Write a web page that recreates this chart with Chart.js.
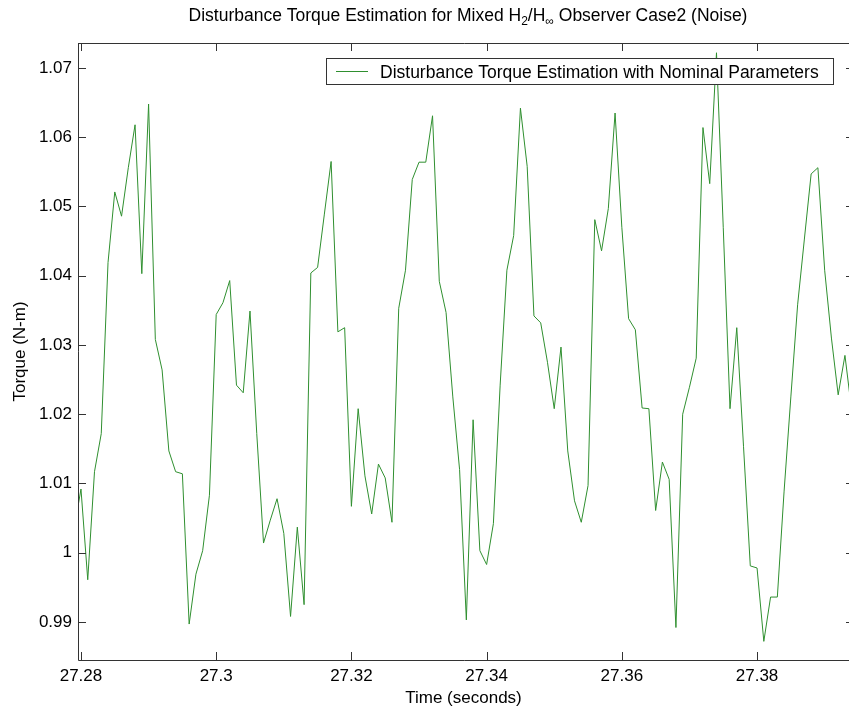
<!DOCTYPE html>
<html>
<head>
<meta charset="utf-8">
<script src="https://cdn.jsdelivr.net/npm/chart.js@4.4.1/dist/chart.umd.min.js"></script>
<style>
    html, body { margin: 0; padding: 0; background: #ffffff; overflow: hidden; }
    #torqueChart { display: block; }
</style>
</head>
<body>
<canvas id="torqueChart" width="849" height="712"></canvas>
<script>
    //Data (1 ms sampling)
    const times = [
        27.279, 27.280, 27.281, 27.282, 27.283, 27.284, 27.285, 27.286, 27.287, 27.288,
        27.289, 27.290, 27.291, 27.292, 27.293, 27.294, 27.295, 27.296, 27.297, 27.298,
        27.299, 27.300, 27.301, 27.302, 27.303, 27.304, 27.305, 27.306, 27.307, 27.308,
        27.309, 27.310, 27.311, 27.312, 27.313, 27.314, 27.315, 27.316, 27.317, 27.318,
        27.319, 27.320, 27.321, 27.322, 27.323, 27.324, 27.325, 27.326, 27.327, 27.328,
        27.329, 27.330, 27.331, 27.332, 27.333, 27.334, 27.335, 27.336, 27.337, 27.338,
        27.339, 27.340, 27.341, 27.342, 27.343, 27.344, 27.345, 27.346, 27.347, 27.348,
        27.349, 27.350, 27.351, 27.352, 27.353, 27.354, 27.355, 27.356, 27.357, 27.358,
        27.359, 27.360, 27.361, 27.362, 27.363, 27.364, 27.365, 27.366, 27.367, 27.368,
        27.369, 27.370, 27.371, 27.372, 27.373, 27.374, 27.375, 27.376, 27.377, 27.378,
        27.379, 27.380, 27.381, 27.382, 27.383, 27.384, 27.385, 27.386, 27.387, 27.388,
        27.389, 27.390, 27.391, 27.392, 27.393, 27.394
    ];
    const torque = [
        1.0035, 1.0092, 0.9961, 1.0117, 1.0172, 1.0419, 1.0521, 1.0486, 1.0556, 1.0618,
        1.0403, 1.0648, 1.0308, 1.0264, 1.0147, 1.0117, 1.0114, 0.9897, 0.9969, 1.0003,
        1.0083, 1.0344, 1.0361, 1.0393, 1.0242, 1.0231, 1.0349, 1.0172, 1.0014, 1.0047,
        1.0078, 1.0028, 0.9908, 1.0037, 0.9925, 1.0404, 1.0412, 1.0489, 1.0565, 1.0319,
        1.0325, 1.0067, 1.0208, 1.0111, 1.0056, 1.0128, 1.0108, 1.0044, 1.0353, 1.0408,
        1.0539, 1.0564, 1.0564, 1.0631, 1.0392, 1.0347, 1.0225, 1.0120, 0.9903, 1.0192,
        1.0003, 0.9983, 1.0042, 1.0242, 1.0408, 1.0458, 1.0642, 1.0558, 1.0342, 1.0332,
        1.0275, 1.0208, 1.0297, 1.0147, 1.0075, 1.0044, 1.0097, 1.0481, 1.0436, 1.0497,
        1.0635, 1.0470, 1.0338, 1.0322, 1.0209, 1.0208, 1.0061, 1.0131, 1.0106, 0.9892,
        1.0200, 1.0239, 1.0281, 1.0614, 1.0533, 1.0722, 1.0470, 1.0208, 1.0325, 1.0153,
        0.9981, 0.9978, 0.9872, 0.9936, 0.9936, 1.0089, 1.0225, 1.0358, 1.0453, 1.0547,
        1.0556, 1.0408, 1.0310, 1.0228, 1.0285, 1.0205
    ];

    const xTicks = [27.28, 27.30, 27.32, 27.34, 27.36, 27.38];
    const xTickLabels = ['27.28', '27.3', '27.32', '27.34', '27.36', '27.38'];
    const yTicks = [0.99, 1.00, 1.01, 1.02, 1.03, 1.04, 1.05, 1.06, 1.07];
    const yTickLabels = ['0.99', '1', '1.01', '1.02', '1.03', '1.04', '1.05', '1.06', '1.07'];
    const xRange = [27.27956, 27.3936];
    const yRange = [0.98451, 1.07361];

    const seriesLabel = 'Disturbance Torque Estimation with Nominal Parameters';
    const lineColor = '#2f8f2f';
    const fontFamily = "'Liberation Sans', Arial, sans-serif";

    //MATLAB-like frame: box on top, inward tick marks, opaque legend, title with sub-scripts
    const matlabFrame = {
        id: 'matlabFrame',
        afterDatasetsDraw(chart) {
            const ctx = chart.ctx;
            const area = chart.chartArea;
            const xScale = chart.scales.x;
            const yScale = chart.scales.y;
            const tickLen = 8;
            const rightBorder = area.right + 5;

            ctx.save();
            ctx.strokeStyle = '#333333';
            ctx.lineWidth = 1;
            ctx.beginPath();
            //box
            ctx.moveTo(area.left + 0.5, area.top + 0.5);
            ctx.lineTo(rightBorder, area.top + 0.5);
            ctx.moveTo(area.left + 0.5, area.top);
            ctx.lineTo(area.left + 0.5, area.bottom + 0.5);
            ctx.lineTo(rightBorder, area.bottom + 0.5);
            //x ticks, top and bottom
            xTicks.forEach(function (v) {
                const px = Math.round(xScale.getPixelForValue(v)) + 0.5;
                ctx.moveTo(px, area.bottom);
                ctx.lineTo(px, area.bottom - tickLen);
                ctx.moveTo(px, area.top);
                ctx.lineTo(px, area.top + tickLen);
            });
            //y ticks, left and right
            yTicks.forEach(function (v) {
                const py = Math.round(yScale.getPixelForValue(v)) + 0.5;
                ctx.moveTo(area.left, py);
                ctx.lineTo(area.left + tickLen, py);
                ctx.moveTo(rightBorder, py);
                ctx.lineTo(rightBorder - tickLen, py);
            });
            ctx.stroke();

            //legend box
            ctx.font = '17.5px ' + fontFamily;
            const textW = ctx.measureText(seriesLabel).width;
            const boxRight = area.right - 16;
            const boxTop = area.top + 15;
            const boxW = 54 + textW + 14;
            const boxH = 26;
            const boxLeft = Math.round(boxRight - boxW);
            ctx.fillStyle = '#ffffff';
            ctx.fillRect(boxLeft, boxTop, boxRight - boxLeft, boxH);
            ctx.strokeStyle = '#333333';
            ctx.strokeRect(boxLeft + 0.5, boxTop + 0.5, boxRight - boxLeft, boxH);
            ctx.strokeStyle = lineColor;
            ctx.beginPath();
            ctx.moveTo(boxLeft + 10, boxTop + 13.5);
            ctx.lineTo(boxLeft + 42, boxTop + 13.5);
            ctx.stroke();
            ctx.fillStyle = '#000000';
            ctx.textBaseline = 'alphabetic';
            ctx.textAlign = 'left';
            ctx.fillText(seriesLabel, boxLeft + 54, boxTop + 19.5);

            //title with H2 / H-infinity subscripts
            const parts = [
                { text: 'Disturbance Torque Estimation for Mixed H', sub: false },
                { text: '2', sub: true },
                { text: '/H', sub: false },
                { text: '\u221E', sub: true },
                { text: ' Observer Case2 (Noise)', sub: false }
            ];
            const bigFont = '17.5px ' + fontFamily;
            const subFont = '12px ' + fontFamily;
            let total = 0;
            parts.forEach(function (p) {
                ctx.font = p.sub ? subFont : bigFont;
                p.w = ctx.measureText(p.text).width;
                total += p.w;
            });
            let tx = (area.left + rightBorder) / 2 - total / 2 + 2;
            const baseY = 21;
            parts.forEach(function (p) {
                ctx.font = p.sub ? subFont : bigFont;
                ctx.fillText(p.text, tx, p.sub ? baseY + 4 : baseY);
                tx += p.w;
            });
            ctx.restore();
        }
    };

    //Chart.js
    const torqueContext = document.getElementById('torqueChart');
    const torqueChart = new Chart(torqueContext, {
        type: 'line',
        data: {
            datasets: [
                {
                    label: seriesLabel,
                    data: times.map((t, i) => ({ x: t, y: torque[i] })),
                    borderColor: lineColor,
                    borderWidth: 1,
                    pointRadius: 0,
                    tension: 0,
                    fill: false
                }
            ]
        },
        options: {
            responsive: false,
            animation: false,
            devicePixelRatio: 1,
            layout: {
                padding: { top: 43, right: 0, bottom: 0, left: 0 }
            },
            plugins: {
                legend: { display: false },
                title: { display: false },
                tooltip: { enabled: false }
            },
            scales: {
                x: {
                    type: 'linear',
                    min: xRange[0],
                    max: xRange[1],
                    afterBuildTicks: function (scale) {
                        scale.ticks = xTicks.map(v => ({ value: v }));
                    },
                    afterFit: function (scale) {
                        scale.height = 52;
                    },
                    grid: { display: false, drawTicks: false },
                    border: { display: false },
                    ticks: {
                        padding: 6,
                        maxRotation: 0,
                        autoSkip: false,
                        color: '#000000',
                        font: { family: fontFamily, size: 17 },
                        callback: function (value, index) {
                            return xTickLabels[index];
                        }
                    },
                    title: {
                        display: true,
                        text: 'Time (seconds)',
                        color: '#000000',
                        font: { family: fontFamily, size: 17 },
                        padding: { top: 0, bottom: 3 }
                    }
                },
                y: {
                    type: 'linear',
                    min: yRange[0],
                    max: yRange[1],
                    afterBuildTicks: function (scale) {
                        scale.ticks = yTicks.map(v => ({ value: v }));
                    },
                    afterFit: function (scale) {
                        scale.width = 78;
                    },
                    grid: { display: false, drawTicks: false },
                    border: { display: false },
                    ticks: {
                        padding: 6,
                        autoSkip: false,
                        color: '#000000',
                        font: { family: fontFamily, size: 17 },
                        callback: function (value, index) {
                            return yTickLabels[index];
                        }
                    },
                    title: {
                        display: true,
                        text: 'Torque (N-m)',
                        color: '#000000',
                        font: { family: fontFamily, size: 17 },
                        padding: { top: 10, bottom: 0 }
                    }
                }
            }
        },
        plugins: [matlabFrame]
    });
</script>
</body>
</html>
